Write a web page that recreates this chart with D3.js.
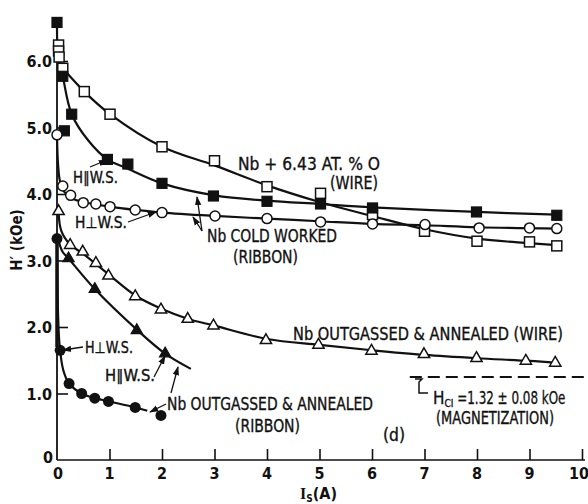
<!DOCTYPE html>
<html><head><meta charset="utf-8">
<script src="https://cdn.jsdelivr.net/npm/d3@7"></script>
<style>
body{margin:0;background:#fff}
text{font-family:"DejaVu Sans Condensed","Liberation Sans Narrow",sans-serif;fill:#111}
</style>
</head><body>
<svg id="c" width="588" height="504"></svg>
<script>
// ---------- data ----------
const xTicks = [0,1,2,3,4,5,6,7,8,9,10];
const xTickLabels = ["0","1","2","3","4","5","6","7","8","9","10"];
const yTicks = [0,1,2,3,4,5,6];
const yTickLabels = ["0","1.0","2.0","3.0","4.0","5.0","6.0"];

// Nb + 6.43 at.% O (wire) — open squares
const oxyWirePts = [[0.03,6.24],[0.03,6.15],[0.04,6.06],[0.11,5.89],[0.52,5.54],[1.01,5.20],[2.0,4.71],[3.0,4.50],[4.0,4.11],[5.02,4.01],[6.01,3.69],[7.0,3.44],[8.0,3.29],[9.0,3.28],[9.52,3.22]];
const oxyWireFit = [[0.11,5.89],[0.52,5.54],[1.01,5.20],[2.0,4.71],[3.0,4.43],[4.0,4.13],[5.0,3.88],[6.0,3.67],[7.0,3.47],[8.0,3.33],[9.0,3.26],[9.52,3.23]];

// Nb cold worked (ribbon), H || W.S. — filled squares
const coldParPts = [[0.0,6.58],[0.11,5.77],[0.14,4.95],[0.28,5.20],[0.96,4.52],[1.35,4.45],[2.0,4.16],[2.98,3.97],[4.0,3.89],[5.02,3.85],[6.01,3.79],[7.99,3.73],[9.52,3.68]];
const coldParFit = [[0.0,6.58],[0.02,6.1],[0.11,5.77],[0.28,5.20],[0.6,4.80],[0.96,4.52],[1.35,4.38],[2.0,4.16],[3.0,3.98],[4.0,3.90],[5.0,3.85],[6.0,3.80],[8.0,3.73],[9.52,3.69]];

// Nb cold worked (ribbon), H ⊥ W.S. — open circles
const coldPerpPts = [[0.0,4.89],[0.11,4.12],[0.26,3.98],[0.5,3.87],[0.74,3.85],[1.01,3.81],[1.49,3.76],[2.0,3.72],[3.01,3.67],[4.0,3.63],[5.02,3.58],[6.01,3.55],[7.01,3.54],[8.04,3.49],[9.0,3.49],[9.52,3.48]];
const coldPerpFit = [[0.0,4.89],[0.02,4.45],[0.06,4.18],[0.15,4.02],[0.3,3.93],[0.5,3.88],[1.0,3.81],[1.5,3.76],[2.0,3.72],[3.0,3.67],[4.0,3.63],[5.0,3.59],[6.0,3.55],[7.0,3.53],[8.0,3.50],[9.52,3.48]];

// Nb outgassed & annealed (wire) — open triangles
const annWirePts = [[0.03,3.74],[0.25,3.23],[0.49,3.13],[0.74,2.96],[0.98,2.77],[1.49,2.46],[1.98,2.26],[2.49,2.12],[2.98,2.02],[3.98,1.80],[4.98,1.73],[5.99,1.64],[6.99,1.59],[7.99,1.53],[8.93,1.49],[9.49,1.46]];
const annWireFit = [[0.03,3.74],[0.08,3.45],[0.25,3.24],[0.5,3.10],[1.0,2.78],[1.5,2.47],[2.0,2.27],[2.5,2.12],[3.0,2.02],[4.0,1.82],[5.0,1.73],[6.0,1.65],[7.0,1.58],[8.0,1.53],[9.0,1.49],[9.5,1.46]];

// Nb outgassed & annealed (ribbon), H || W.S. — filled triangles
const annRibParPts = [[0.22,3.03],[0.72,2.57],[1.52,1.95],[2.06,1.60]];
const annRibParFit = [[0.02,3.33],[0.1,3.14],[0.22,3.03],[0.72,2.57],[1.52,1.96],[2.06,1.60],[2.55,1.37]];

// Nb outgassed & annealed (ribbon), H ⊥ W.S. — filled circles
const annRibPerpPts = [[0.0,3.33],[0.06,1.65],[0.23,1.15],[0.47,1.00],[0.72,0.93],[0.98,0.88],[1.49,0.79],[1.98,0.67]];
const annRibPerpFit = [[0.0,3.33],[0.02,2.2],[0.05,1.72],[0.12,1.35],[0.23,1.15],[0.47,1.00],[0.72,0.93],[1.0,0.88],[1.5,0.79],[1.72,0.74]];

// Hc1 from magnetization (dashed)
const hc1Line = [[6.72,1.25],[10.1,1.25]];

// ---------- drawing ----------
const svg = d3.select("#c");
const x = d3.scaleLinear().domain([0,10]).range([57,582]);
const y = d3.scaleLinear().domain([0,6]).range([460,61]);
const ink = "#111";

const defs = svg.append("defs");
defs.append("marker").attr("id","arr").attr("viewBox","0 0 10 10").attr("refX",9).attr("refY",5)
  .attr("markerWidth",7).attr("markerHeight",7).attr("orient","auto")
  .append("path").attr("d","M0,1.5 L10,5 L0,8.5 Z").attr("fill",ink);

// axes
const xAxis = d3.axisBottom(x).tickValues(xTicks).tickSizeInner(-11).tickSizeOuter(0).tickFormat(()=>"");
const gx = svg.append("g").attr("transform",`translate(0,${y(0)})`).call(xAxis);
gx.select(".domain").attr("stroke",ink).attr("stroke-width",1.6).attr("d",`M${x(0)},0H${x(10)+3}`);
gx.selectAll(".tick line").attr("stroke",ink).attr("stroke-width",1.6).filter(d=>d===0).remove();

const yAxis = d3.axisLeft(y).tickValues(yTicks.filter(d=>d>0)).tickSizeInner(-11).tickSizeOuter(0).tickFormat(()=>"");
const gy = svg.append("g").attr("transform",`translate(${x(0)},0)`).call(yAxis);
gy.select(".domain").attr("stroke",ink).attr("stroke-width",1.8).attr("d",`M0,${y(0)}V${y(6.6)}`);
gy.selectAll(".tick line").attr("stroke",ink).attr("stroke-width",1.6);

svg.append("g").selectAll("text").data(xTicks).join("text")
  .attr("x",d=>x(d)+(d===0?1:d===10?-3:0)).attr("y",479).attr("text-anchor","middle")
  .attr("font-size",16).attr("font-weight","bold").text((d,i)=>xTickLabels[i]);
svg.append("g").selectAll("text").data(yTicks).join("text")
  .attr("x",d=>d===0?53:52).attr("y",d=>y(d)+(d===0?3:6)).attr("text-anchor","end")
  .attr("font-size",16).attr("font-weight","bold").text((d,i)=>yTickLabels[i]);

// axis titles
svg.append("text").attr("transform","translate(22,240) rotate(-90)").attr("text-anchor","middle")
  .attr("font-size",15).attr("font-weight","bold").text("H\u2032 (kOe)");
const xt = svg.append("text").attr("x",300).attr("y",499).attr("font-size",16).attr("font-weight","bold");
xt.append("tspan").attr("font-family","Liberation Serif, serif").text("I");
xt.append("tspan").attr("font-size",10).attr("dy",3).text("S");
xt.append("tspan").attr("dy",-3).text("(A)");

// curves
const line = d3.line().x(d=>x(d[0])).y(d=>y(d[1])).curve(d3.curveCatmullRom.alpha(0.5));
const fits = [oxyWireFit, coldParFit, coldPerpFit, annWireFit, annRibParFit, annRibPerpFit];
svg.append("g").selectAll("path").data(fits).join("path")
  .attr("d",line).attr("fill","none").attr("stroke",ink).attr("stroke-width",2.2);
svg.append("path").attr("d",`M${x(0)},${y(3.33)}V${y(1.7)}`).attr("stroke",ink).attr("stroke-width",3.5);

svg.append("path").attr("d",d3.line().x(d=>x(d[0])).y(d=>y(d[1]))(hc1Line))
  .attr("stroke",ink).attr("stroke-width",2).attr("stroke-dasharray","12,6");

// markers
const sq = 10;
svg.append("g").selectAll("rect").data(oxyWirePts).join("rect")
  .attr("x",d=>x(d[0])-sq/2).attr("y",d=>y(d[1])-sq/2).attr("width",sq).attr("height",sq)
  .attr("fill","#fff").attr("stroke",ink).attr("stroke-width",1.5);
svg.append("g").selectAll("rect").data(coldParPts).join("rect")
  .attr("x",d=>x(d[0])-sq/2).attr("y",d=>y(d[1])-sq/2).attr("width",sq).attr("height",sq)
  .attr("fill",ink).attr("stroke",ink).attr("stroke-width",1.2);
svg.append("g").selectAll("circle").data(coldPerpPts).join("circle")
  .attr("cx",d=>x(d[0])).attr("cy",d=>y(d[1])).attr("r",5)
  .attr("fill","#fff").attr("stroke",ink).attr("stroke-width",1.5);
const tri = d3.symbol().type(d3.symbolTriangle).size(55);
svg.append("g").selectAll("path").data(annWirePts).join("path")
  .attr("transform",d=>`translate(${x(d[0])},${y(d[1])})`).attr("d",tri)
  .attr("fill","#fff").attr("stroke",ink).attr("stroke-width",1.5);
svg.append("g").selectAll("path").data(annRibParPts).join("path")
  .attr("transform",d=>`translate(${x(d[0])},${y(d[1])})`).attr("d",tri)
  .attr("fill",ink).attr("stroke",ink).attr("stroke-width",1.2);
svg.append("g").selectAll("circle").data(annRibPerpPts).join("circle")
  .attr("cx",d=>x(d[0])).attr("cy",d=>y(d[1])).attr("r",5.5).attr("fill",ink);

// annotations
const lab = (t,px,py,fs,w)=>{
  const el = svg.append("text").attr("x",px).attr("y",py).attr("font-size",fs||18)
    .attr("stroke",ink).attr("stroke-width",0.35).text(t);
  if (w) el.attr("textLength",w).attr("lengthAdjust","spacingAndGlyphs");
  return el;
};
lab("Nb + 6.43 AT. % O",238,170,18,142);
lab("(WIRE)",330,189,18,48);
lab("H\u2225W.S.",73,183,15,45);
lab("H\u22A5W.S.",75,228,15,52);
lab("Nb COLD WORKED",207,242,18,130);
lab("(RIBBON)",233,263,18,65);
lab("Nb OUTGASSED & ANNEALED (WIRE)",293,340,18,270);
lab("H\u22A5W.S.",85,353,15,48);
lab("H\u2225W.S.",105,381,15,50);
lab("Nb OUTGASSED & ANNEALED",167,410,18,206);
lab("(RIBBON)",235,432,18,65);
lab("(d)",383,441,18,22);
const hc = svg.append("text").attr("x",433).attr("y",404).attr("font-size",17).attr("stroke",ink).attr("stroke-width",0.3);
hc.append("tspan").text("H");
hc.append("tspan").attr("font-size",10).attr("dy",3).text("CI");
hc.append("tspan").attr("dy",-3).attr("textLength",112).attr("lengthAdjust","spacingAndGlyphs").text(" =1.32 \u00B1 0.08 kOe");
lab("(MAGNETIZATION)",436,424,17,118);

svg.append("path").attr("d","M415,379 L422,379 L419,382 V393 H428").attr("fill","none").attr("stroke",ink).attr("stroke-width",1.5);

const leaders = [
  [[90,167],[107,160]],
  [[128,222],[156,212]],
  [[202,231],[197,197]],
  [[202,231],[193,217]],
  [[83,347],[63,350]],
  [[154,377],[165,356]],
  [[171,393],[178,367]],
  [[166,404],[150,412]]
];
svg.append("g").selectAll("line").data(leaders).join("line")
  .attr("x1",d=>d[0][0]).attr("y1",d=>d[0][1]).attr("x2",d=>d[1][0]).attr("y2",d=>d[1][1])
  .attr("stroke",ink).attr("stroke-width",1.3).attr("marker-end","url(#arr)");
</script>
</body></html>
